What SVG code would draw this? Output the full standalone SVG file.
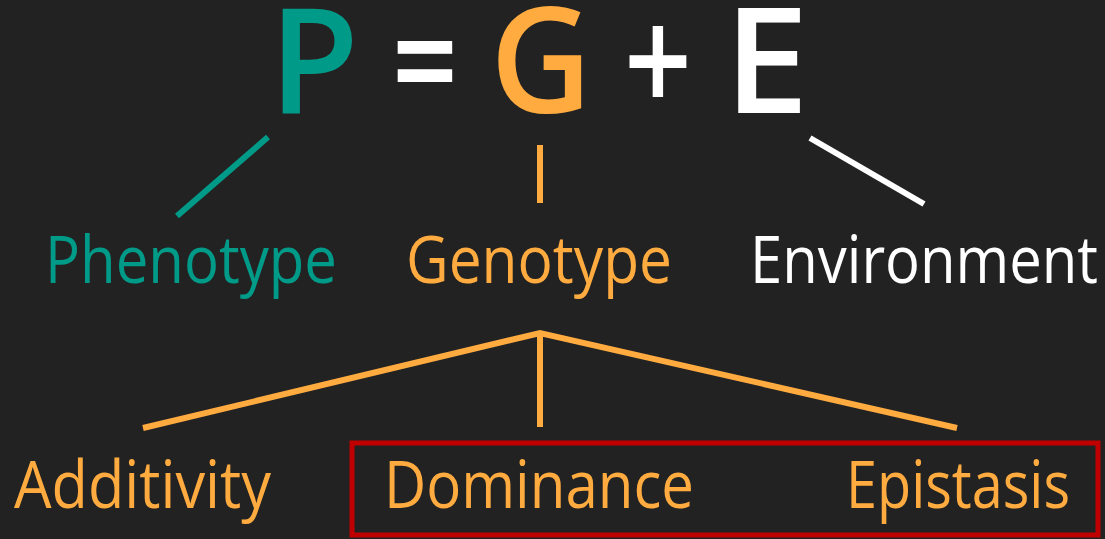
<svg xmlns="http://www.w3.org/2000/svg" width="1105" height="539" viewBox="0 0 1105 539">
  <style>
    .big { font-family: "Open Sans", "Liberation Sans", sans-serif; font-weight: 600; font-size: 147px; }
    .lbl { font-family: "Open Sans", "Liberation Sans", sans-serif; font-size: 66px; }
    .teal { fill: #009a88; }
    .orange { fill: #ffab40; }
    .white { fill: #ffffff; }
    .link { fill: none; stroke-width: 6; stroke-linecap: butt; }
  </style>
  <rect x="0" y="0" width="1105" height="539" fill="#222222"/>

  <!-- P = G + E headline -->
  <g id="equation">
    <text class="big teal" x="269" y="113" textLength="90" lengthAdjust="spacingAndGlyphs">P</text>
    <text class="big white" x="392" y="113" textLength="66" lengthAdjust="spacingAndGlyphs">=</text>
    <text class="big orange" x="490" y="113" textLength="102" lengthAdjust="spacingAndGlyphs">G</text>
    <text class="big white" x="624" y="113" textLength="68" lengthAdjust="spacingAndGlyphs">+</text>
    <text class="big white" x="724" y="113" textLength="85" lengthAdjust="spacingAndGlyphs">E</text>
  </g>

  <g id="connectors">
    <line class="link" stroke="#009a88" x1="268" y1="137" x2="177" y2="216"/>
    <line class="link" stroke="#ffab40" x1="540" y1="145" x2="540" y2="203"/>
    <line class="link" stroke="#ffffff" x1="810" y1="138" x2="924" y2="204"/>
    <polyline class="link" stroke="#ffab40" points="143,428 540,333 957,428"/>
    <line class="link" stroke="#ffab40" x1="540" y1="333" x2="540" y2="427"/>
  </g>

  <g id="phenotype"><text class="lbl teal" x="45" y="283" textLength="292" lengthAdjust="spacingAndGlyphs">Phenotype</text></g>
  <g id="genotype"><text class="lbl orange" x="406" y="283" textLength="266" lengthAdjust="spacingAndGlyphs">Genotype</text></g>
  <g id="environment"><text class="lbl white" x="750" y="283" textLength="348" lengthAdjust="spacingAndGlyphs">Environment</text></g>

  <g id="additivity"><text class="lbl orange" x="14" y="508" textLength="257" lengthAdjust="spacingAndGlyphs">Additivity</text></g>
  <!-- frame around the non-additive components -->
  <g id="non-additive">
    <rect x="352" y="443" width="746" height="92" fill="none" stroke="#c00000" stroke-width="5"/>
  </g>
  <g id="dominance"><text class="lbl orange" x="384" y="508" textLength="310" lengthAdjust="spacingAndGlyphs">Dominance</text></g>
  <g id="epistasis"><text class="lbl orange" x="846" y="508" textLength="224" lengthAdjust="spacingAndGlyphs">Epistasis</text></g>
</svg>
